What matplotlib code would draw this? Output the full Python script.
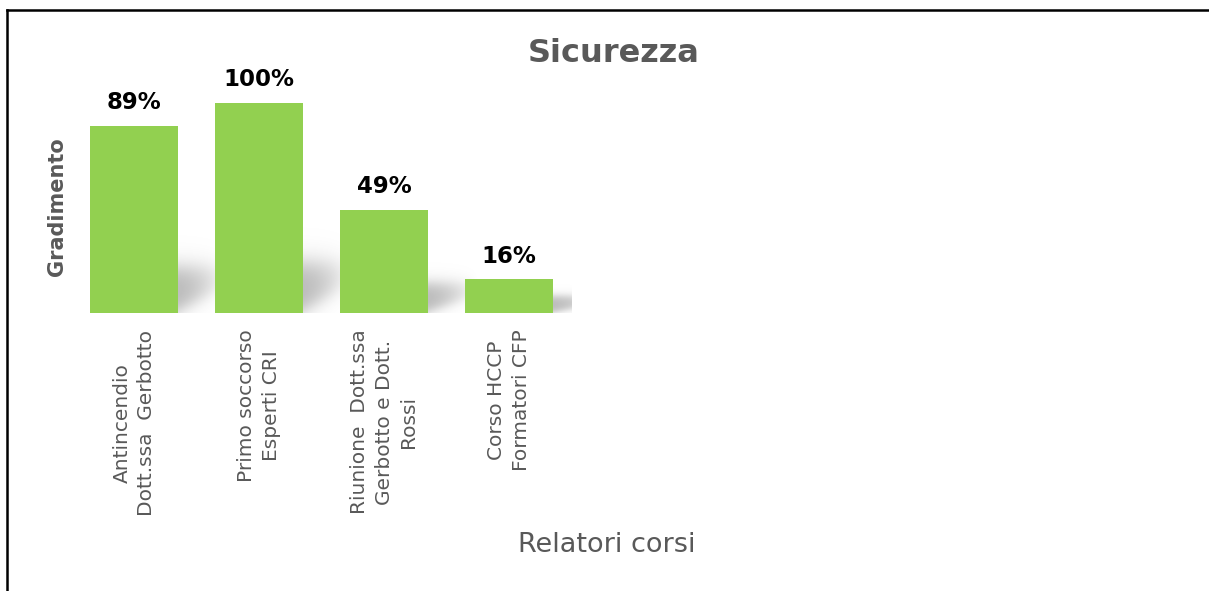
import numpy as np
import matplotlib
matplotlib.use("Agg")
import matplotlib.pyplot as plt
from matplotlib.lines import Line2D

categories = [
    "Antincendio\nDott.ssa  Gerbotto",
    "Primo soccorso\nEsperti CRI",
    "Riunione  Dott.ssa\nGerbotto e Dott.\nRossi",
    "Corso HCCP\nFormatori CFP",
]
values = [0.89, 1.00, 0.49, 0.16]
value_labels = ["89%", "100%", "49%", "16%"]

GREEN = "#92D050"
GREY_TEXT = "#595959"

W, H = 1209, 591
fig = plt.figure(figsize=(W / 100, H / 100), dpi=100)
ax = fig.add_axes([71.5 / W, (H - 313) / H, 500 / W, 210 / H])

x = np.arange(len(values))
bar_w = 0.7

# soft grey shadow behind each bar, falling to the right
for xi, v in zip(x, values):
    r = xi + bar_w / 2
    h = 0.06 + 0.22 * v
    sw = 0.4
    nx, ny = 80, 80
    ytop = h * 1.5
    u = np.linspace(0, 1, nx)[None, :]
    yy = np.linspace(0, ytop, ny)[:, None]
    top = 1 / (1 + np.exp((yy - h * 0.85) / (0.12 * h)))
    lower = 1 / (1 + np.exp(-(yy - 0.5 * h * u) / (0.1 * h)))
    fade = np.clip(1 - u ** 1.8, 0, 1)
    alpha = 0.6 * top * lower * fade
    img = np.zeros((ny, nx, 4))
    img[..., :3] = 0.55
    img[..., 3] = alpha
    ax.imshow(img, extent=[r - 0.02, r + sw, 0, ytop], origin="lower",
              aspect="auto", zorder=1, interpolation="bilinear")

bars = ax.bar(x, values, width=bar_w, color=GREEN, zorder=2)

for xi, v, lab in zip(x, values, value_labels):
    ax.annotate(lab, (xi, v), xytext=(0, 12), textcoords="offset points",
                ha="center", va="baseline", fontsize=16.5, fontweight="bold",
                color="black", annotation_clip=False)

ax.set_xlim(-0.5, 3.5)
ax.set_ylim(0, 1)
ax.set_yticks([])
ax.set_xticks(x)
ax.set_xticklabels(categories, rotation=90, fontsize=14.5, color=GREY_TEXT,
                   ha="center", va="top", multialignment="center",
                   linespacing=1.35)
ax.tick_params(axis="x", length=0, pad=12)
for s in ax.spines.values():
    s.set_visible(False)

fig.text(614 / W, 1 - 53 / H, "Sicurezza", ha="center", va="center",
         fontsize=23, fontweight="bold", color=GREY_TEXT)
fig.text(57 / W, 1 - 207 / H, "Gradimento", ha="center", va="center",
         rotation=90, fontsize=15, fontweight="bold", color=GREY_TEXT)
fig.text(607 / W, 1 - 545 / H, "Relatori corsi", ha="center", va="center",
         fontsize=19.5, color=GREY_TEXT)

# chart border (top and left edges visible)
fig.add_artist(Line2D([7 / W, 1], [1 - 10 / H, 1 - 10 / H], color="black",
                      lw=1.8, transform=fig.transFigure))
fig.add_artist(Line2D([7 / W, 7 / W], [0, 1 - 10 / H], color="black",
                      lw=1.8, transform=fig.transFigure))

fig.savefig("out.png", dpi=100)
